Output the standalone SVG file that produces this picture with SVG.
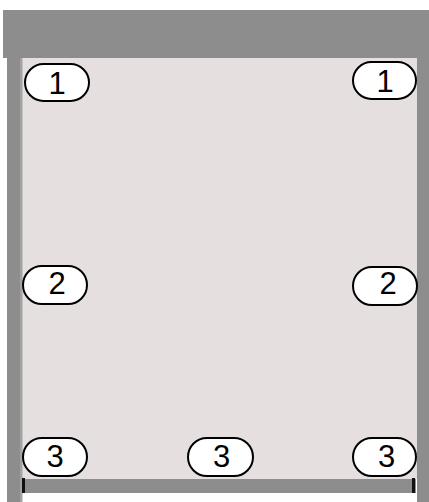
<svg xmlns="http://www.w3.org/2000/svg" width="429" height="502" viewBox="0 0 429 502">
<style>
.wall{fill:#8d8d8d}
.pill rect{fill:#ffffff;stroke:#000000;stroke-width:2}
.pill text{font-family:"Liberation Sans",Arial,sans-serif;font-size:31px;fill:#000000;text-anchor:middle}
</style>
<rect x="0" y="0" width="429" height="502" fill="#ffffff"/>
<g id="structure">
<rect x="22" y="58" width="395" height="421" fill="#e5e0df"/>
<rect class="wall" x="3" y="10" width="426" height="48"/>
<rect class="wall" x="7" y="58" width="13" height="444"/>
<rect x="20" y="58" width="2.5" height="444" fill="#a3a3a3"/>
<rect class="wall" x="417" y="58" width="12" height="444"/>
<rect class="wall" x="22" y="479" width="394" height="14"/>
<rect x="22" y="478" width="3" height="15" fill="#111111"/>
<rect x="412" y="478" width="3" height="15" fill="#111111"/>
</g>
<g id="p1l" class="pill"><rect x="25" y="64" width="64" height="37" rx="18.5"/><text x="57" y="94">1</text></g>
<g id="p1r" class="pill"><rect x="353" y="62" width="63" height="37" rx="18.5"/><text x="385" y="92">1</text></g>
<g id="p2l" class="pill"><rect x="23" y="266" width="64" height="38" rx="19"/><text x="57" y="294">2</text></g>
<g id="p2r" class="pill"><rect x="353" y="267" width="64" height="38" rx="19"/><text x="388" y="294">2</text></g>
<g id="p3l" class="pill"><rect x="23" y="438" width="64" height="38" rx="19"/><text x="55" y="467">3</text></g>
<g id="p3m" class="pill"><rect x="188" y="438" width="65" height="38" rx="19"/><text x="221.5" y="467">3</text></g>
<g id="p3r" class="pill"><rect x="353" y="438" width="63" height="38" rx="19"/><text x="386.5" y="467">3</text></g>
<g id="connectors"></g>
</svg>
